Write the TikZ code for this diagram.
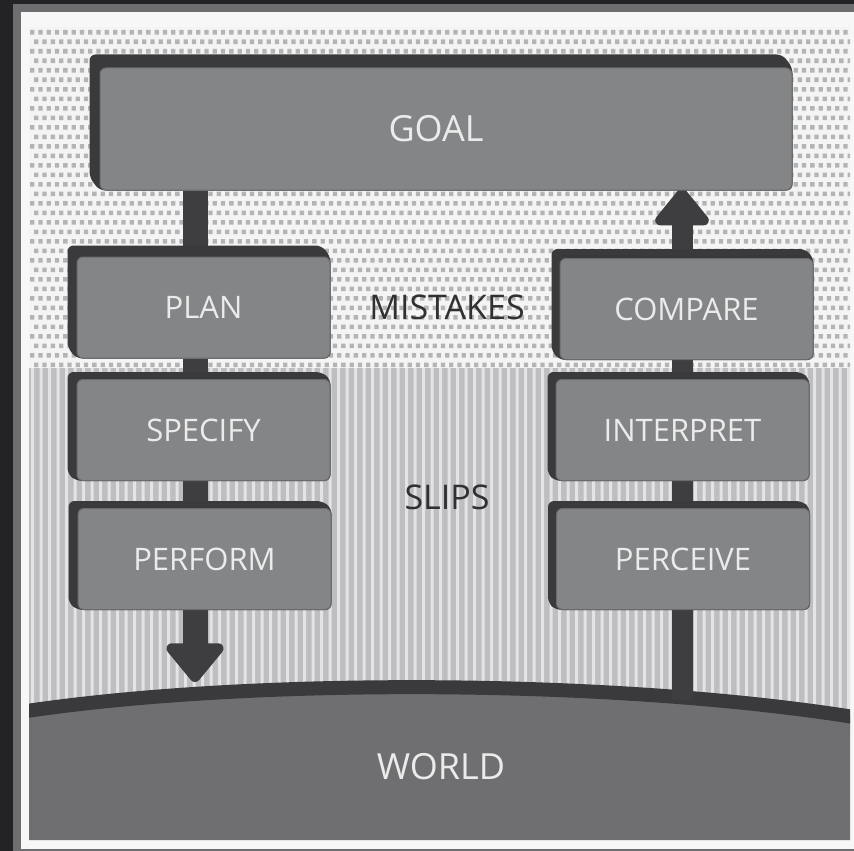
\documentclass[tikz,border=0pt]{standalone}
\usepackage{fontspec}
\setmainfont{Open Sans}
\usetikzlibrary{arrows.meta}

\definecolor{outerc}{HTML}{232325}
\definecolor{framec}{HTML}{6E6E70}
\definecolor{paperc}{HTML}{F7F7F7}
\definecolor{dotbg}{HTML}{F4F4F4}
\definecolor{dotc}{HTML}{B4B4B6}
\definecolor{stripebg}{HTML}{BEBEC0}
\definecolor{stripec}{HTML}{E4E4E6}
\definecolor{facec}{HTML}{848587}
\definecolor{faceedge}{HTML}{6A6B6D}
\definecolor{shadec}{HTML}{3A3A3C}
\definecolor{stemc}{HTML}{3E3E40}
\definecolor{worldc}{HTML}{6F6F72}
\definecolor{textc}{HTML}{EBEBEB}
\definecolor{zonetext}{HTML}{303032}

\pgfdeclarelayer{panel}
\pgfdeclarelayer{links}
\pgfdeclarelayer{shade}
\pgfsetlayers{panel,links,shade,main}

% extruded dark back of a box, offset up and to the left
\newcommand\boxshade[3]{%
  \fill[shadec, rounded corners=6pt]
    ([shift={(-#2,-#3)}]#1.north west) -- ([shift={(-#2,-#3)}]#1.north east)
    -- (#1.north east) -- (#1.south east) -- (#1.south west)
    -- ([shift={(-#2,-#3)}]#1.south west) -- cycle;}

\begin{document}
\begin{tikzpicture}[x=1pt,y=-1pt,
  stepbox/.style={fill=facec, draw=faceedge, line width=1pt, rounded corners=6pt,
    minimum width=253pt, minimum height=101pt, inner sep=0pt, text=textc,
    font=\fontsize{31}{31}\selectfont},
  zone/.style={text=zonetext, font=\fontsize{34}{34}\selectfont},
  stem/.style={draw=stemc, line width=25pt},
  rstem/.style={draw=stemc, line width=21pt}]

\useasboundingbox (0,0) rectangle (854,851);

\coordinate (lcol) at (195,0);
\coordinate (rcol) at (682,0);
\coordinate (lhead) at (195,682);
\coordinate (ground) at (682,700);

% boxes
\node[stepbox, minimum width=692pt, minimum height=122pt,
      font=\fontsize{36}{36}\selectfont] (goal) at (446,129) {\hspace*{-20pt}GOAL};
\node[stepbox] (plan)      at (203.5,307.5) {PLAN};
\node[stepbox] (specify)   at (203.5,430)   {SPECIFY};
\node[stepbox] (perform)   at (204.5,559)   {PERFORM};
\node[stepbox] (compare)   at (686.5,309)   {COMPARE};
\node[stepbox] (interpret) at (682.5,430)   {INTERPRET};
\node[stepbox] (perceive)  at (683,559)     {PERCEIVE};

\node[zone] (mistakes) at (447,307) {MISTAKES};
\node[zone] (slips)    at (447,497) {SLIPS};
\node[textc, font=\fontsize{36}{36}\selectfont] (world) at (441,767) {WORLD};

\begin{pgfonlayer}{shade}
  \boxshade{goal}{10}{13}
  \boxshade{plan}{9}{11}
  \boxshade{specify}{9}{7}
  \boxshade{perform}{9}{7}
  \boxshade{compare}{8}{9}
  \boxshade{interpret}{8}{7}
  \boxshade{perceive}{8}{7}
\end{pgfonlayer}

\begin{pgfonlayer}{links}
  % action side
  \draw[stem] (goal.south -| lcol) -- (plan.north -| lcol);
  \draw[stem] (plan.south -| lcol) -- (specify.north -| lcol);
  \draw[stem] (specify.south -| lcol) -- (perform.north -| lcol);
  \draw[stem, -{Triangle[width=66pt,length=42pt,round]}] (perform.south -| lcol) -- (lhead);
  % evaluation side
  \draw[rstem] (ground) -- (perceive.south -| rcol);
  \draw[rstem] (perceive.north -| rcol) -- (interpret.south -| rcol);
  \draw[rstem] (interpret.north -| rcol) -- (compare.south -| rcol);
  \draw[rstem, -{Triangle[width=62pt,length=40pt,round]}, shorten >=-2pt]
    (compare.north -| rcol) -- (goal.south -| rcol);
\end{pgfonlayer}

\begin{pgfonlayer}{panel}
  % frame and paper
  \fill[outerc] (0,0) rectangle (854,851);
  \fill[framec] (13,4) rectangle (854,851);
  \fill[paperc] (21,12) rectangle (854,849);
  \begin{scope}
    \clip (29,27) rectangle (850,840);
    % mistakes zone: dotted screen
    \fill[dotbg] (29,27) rectangle (850,368);
    \fill[dotc] \foreach \j in {0,...,35} {
      \foreach \i in {0,...,99} {
        ({30+8.3*\i+4.1*mod(\j,2)}, {30+9.5*\j}) rectangle ++(4.3,4.6) } };
    % slips zone: vertical stripes
    \fill[stripebg] (29,368) rectangle (850,730);
    \fill[stripec] \foreach \i in {0,...,97} {
      ({31+8.5*\i},368) rectangle ++(3.2,362) };
    % the world and its horizon
    \fill[worldc] (20,712) .. controls (250,677) and (620,679) .. (860,718)
      -- (860,840) -- (20,840) -- cycle;
    \draw[shadec, line width=14pt] (20,712) .. controls (250,677) and (620,679) .. (860,718);
  \end{scope}
\end{pgfonlayer}

\end{tikzpicture}
\end{document}
